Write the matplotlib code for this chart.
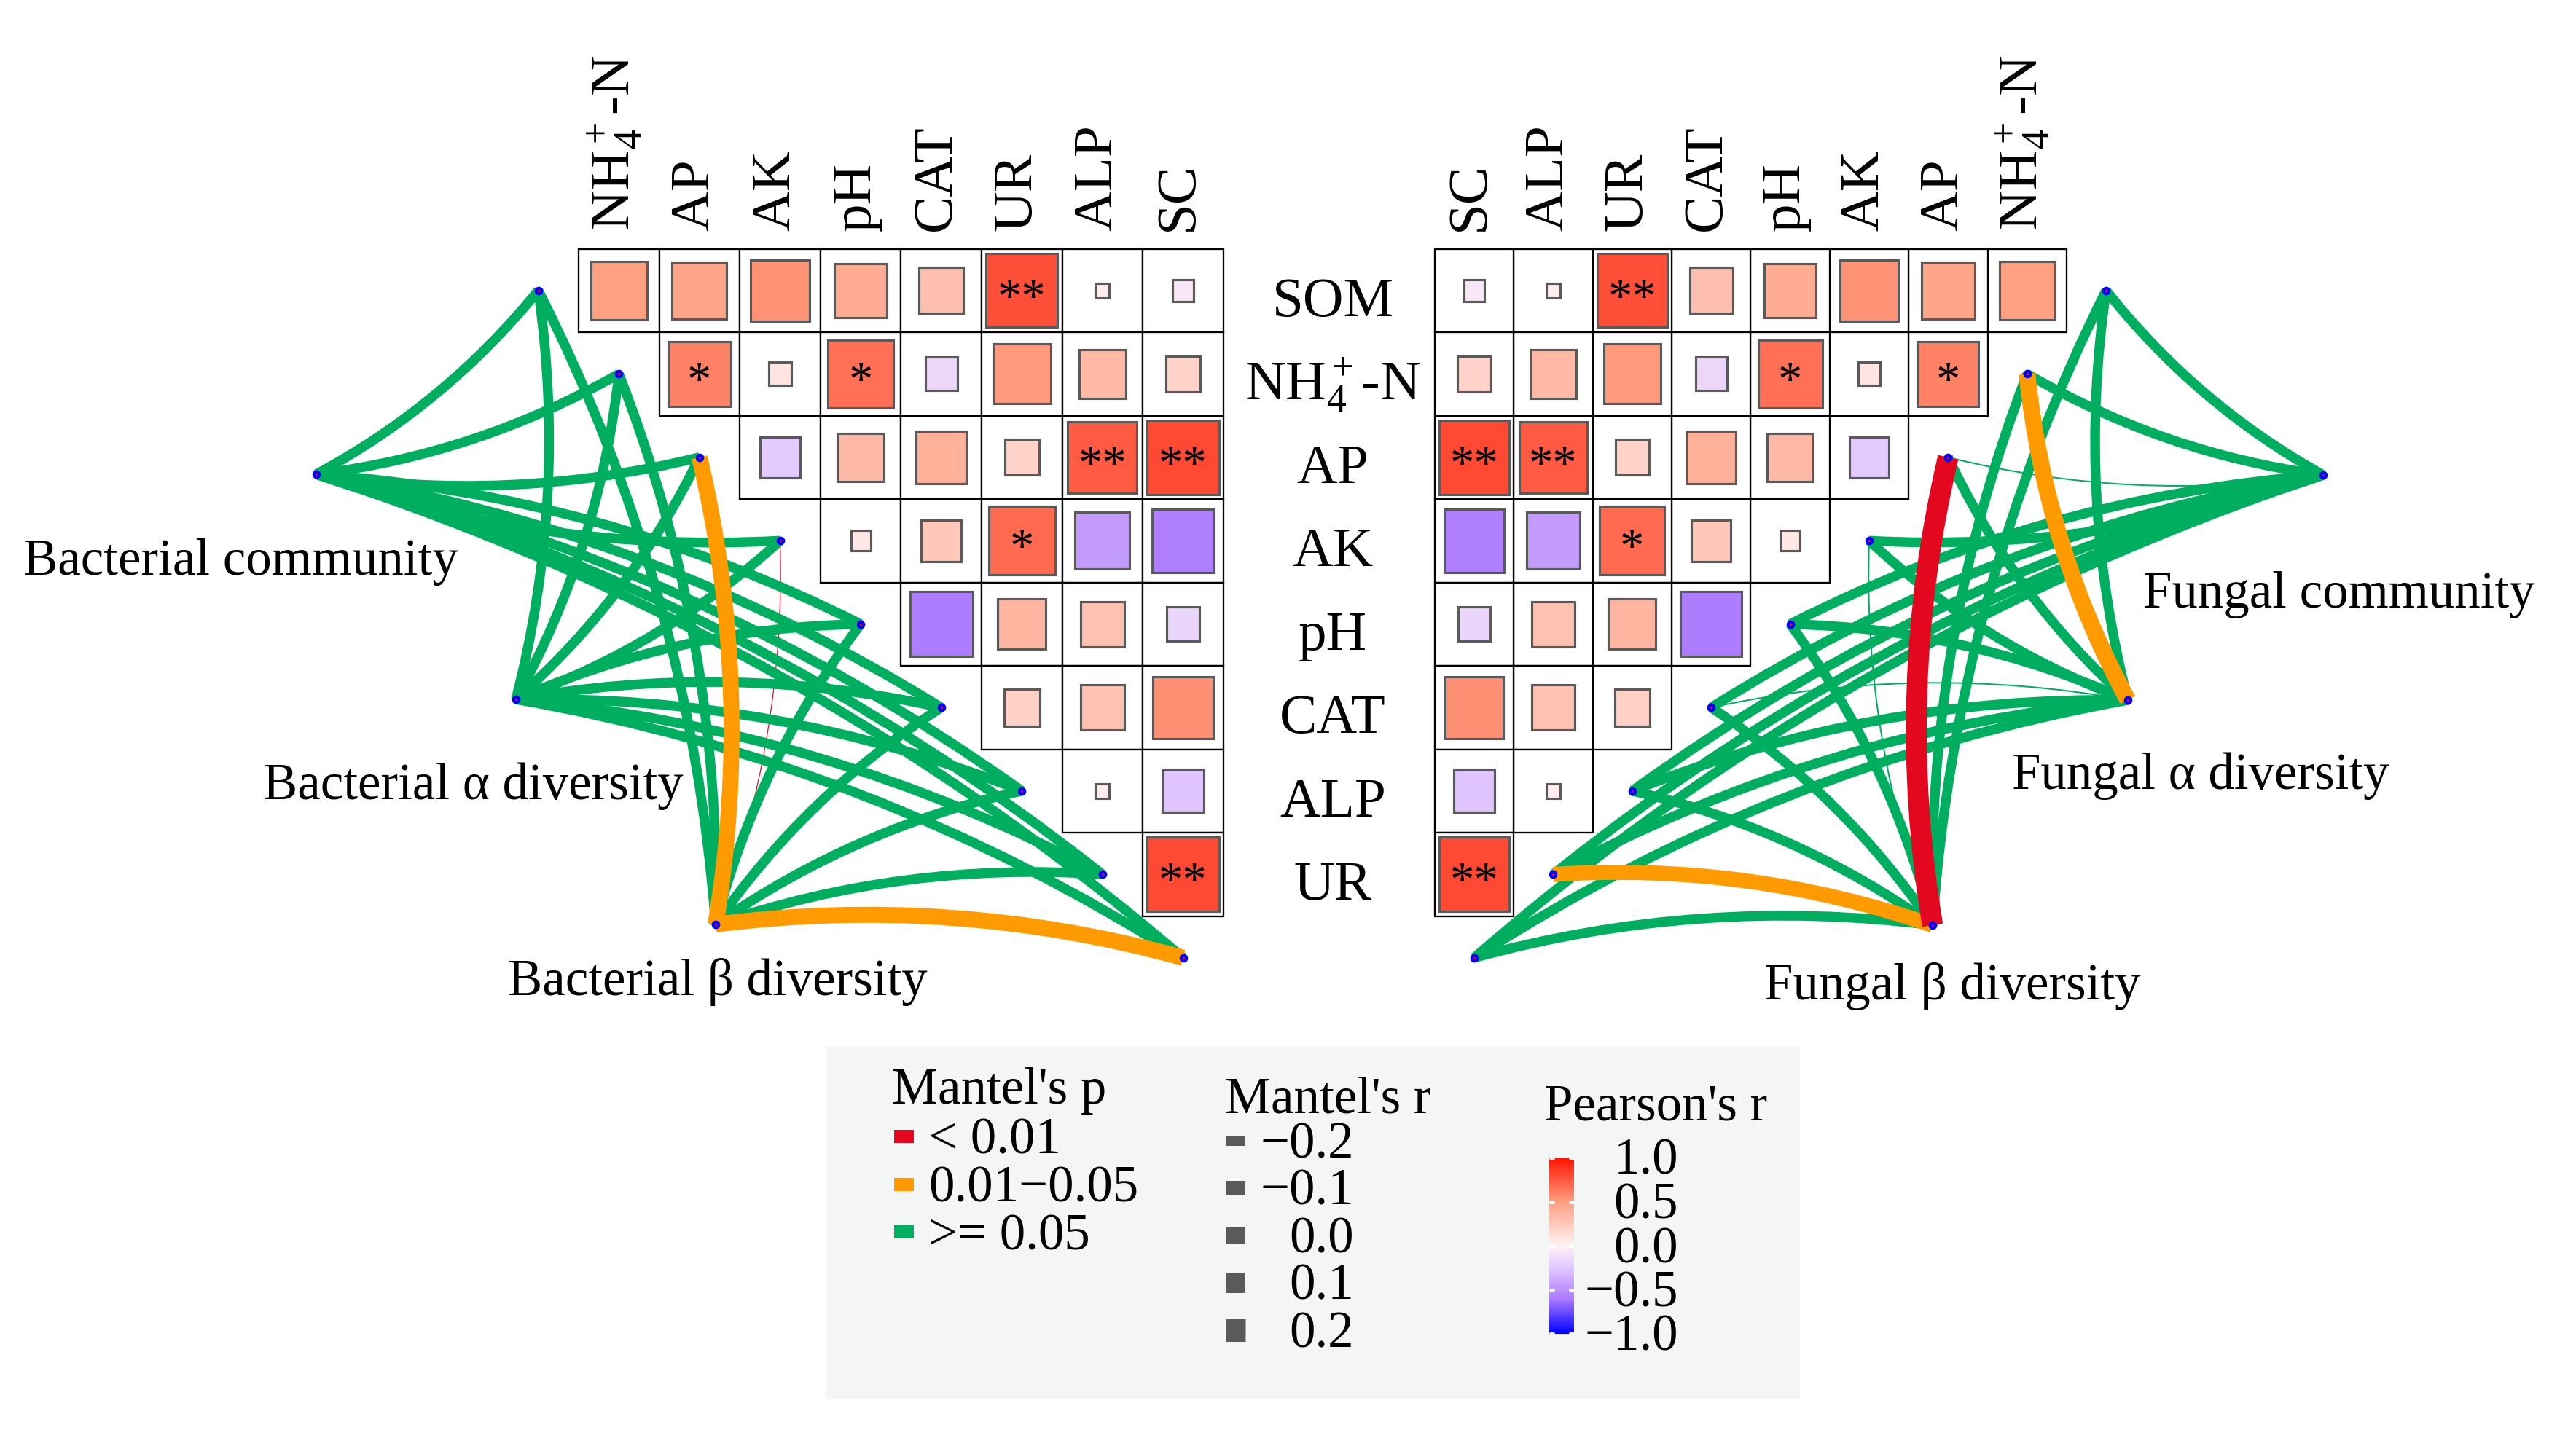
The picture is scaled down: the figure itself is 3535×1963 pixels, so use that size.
import numpy as np
import matplotlib
matplotlib.use("Agg")
from matplotlib import pyplot as plt
from matplotlib.patches import Rectangle, PathPatch
from matplotlib.path import Path
from matplotlib.colors import LinearSegmentedColormap, Normalize
from matplotlib.cm import ScalarMappable
import matplotlib.transforms as mtransforms

plt.rcParams['font.family'] = ['Liberation Serif', 'DejaVu Serif']
plt.rcParams['mathtext.fontset'] = 'custom'
plt.rcParams['mathtext.rm'] = 'Liberation Serif'
plt.rcParams['mathtext.it'] = 'Liberation Serif:italic'

# ---- data ----
col_labels = ["NH$_4^+$-N", "AP", "AK", "pH", "CAT", "UR", "ALP", "SC"]
row_labels = ["SOM", "NH$_4^+$-N", "AP", "AK", "pH", "CAT", "ALP", "UR"]
env_vars = ["SOM", "NH4", "AP", "AK", "pH", "CAT", "ALP", "UR", "SC"]

nan = np.nan
# Pearson's r between soil factors (upper triangle, rows x columns)
pearson_r = np.array([
    [0.49, 0.46, 0.54, 0.42, 0.30, 0.78, 0.03, -0.07],
    [nan, 0.60, 0.08, 0.66, -0.16, 0.51, 0.34, 0.18],
    [nan, nan, -0.24, 0.33, 0.39, 0.18, 0.74, 0.80],
    [nan, nan, nan, 0.06, 0.25, 0.68, -0.46, -0.58],
    [nan, nan, nan, nan, -0.60, 0.36, 0.29, -0.17],
    [nan, nan, nan, nan, nan, 0.20, 0.29, 0.55],
    [nan, nan, nan, nan, nan, nan, 0.03, -0.27],
    [nan, nan, nan, nan, nan, nan, nan, 0.80],
])
signif = [
    ["", "", "", "", "", "**", "", ""],
    ["", "*", "", "*", "", "", "", ""],
    ["", "", "", "", "", "", "**", "**"],
    ["", "", "", "", "", "*", "", ""],
    ["", "", "", "", "", "", "", ""],
    ["", "", "", "", "", "", "", ""],
    ["", "", "", "", "", "", "", ""],
    ["", "", "", "", "", "", "", "**"],
]

bact_groups = ["Bacterial community", "Bacterial α diversity", "Bacterial β diversity"]
fung_groups = ["Fungal community", "Fungal α diversity", "Fungal β diversity"]

# Mantel tests: one list per group, one value per soil factor (env_vars order)
bact_p = [
    [">=0.05"] * 9,
    [">=0.05"] * 9,
    [">=0.05", ">=0.05", "0.01-0.05", "<0.01", ">=0.05", ">=0.05", ">=0.05", ">=0.05", "0.01-0.05"],
]
bact_r = [
    [-0.21] * 9,
    [-0.21] * 9,
    [-0.21, -0.21, -0.05, -0.42, -0.21, -0.21, -0.21, -0.21, -0.05],
]
fung_p = [
    [">=0.05"] * 9,
    [">=0.05", "0.01-0.05", ">=0.05", ">=0.05", ">=0.05", ">=0.05", ">=0.05", ">=0.05", ">=0.05"],
    [">=0.05", ">=0.05", "<0.01", ">=0.05", ">=0.05", ">=0.05", ">=0.05", "0.01-0.05", ">=0.05"],
]
fung_r = [
    [-0.21, -0.21, -0.40, -0.21, -0.21, -0.21, -0.21, -0.21, -0.21],
    [-0.21, -0.03, -0.21, -0.21, -0.21, -0.40, -0.21, -0.21, -0.21],
    [-0.21, -0.21, 0.12, -0.40, -0.21, -0.21, -0.21, -0.08, -0.21],
]

p_levels = ["<0.01", "0.01-0.05", ">=0.05"]
p_level_labels = ["< 0.01", "0.01\u22120.05", ">= 0.05"]
p_colors = ["#E3081F", "#FF9A00", "#00AE60"]
r_breaks = [-0.2, -0.1, 0.0, 0.1, 0.2]
r_break_labels = ["\u22120.2", "\u22120.1", "0.0", "0.1", "0.2"]
cbar_ticks = [-1.0, -0.5, 0.0, 0.5, 1.0]
cbar_labels = ["\u22121.0", "\u22120.5", "0.0", "0.5", "1.0"]

# ---- layout (pixels of the output image) ----
W, H, DPI = 3535, 1963, 300
PX = 72.0 / DPI
FS = 17
FS_HM = 18.5

gx0, gy0, cw, ch = 794.0, 341.5, 110.6, 114.5   # left heatmap
gxr, cwr = 2836.0, 108.4                        # right heatmap (right edge)
label_x = 1829.0
bact_xy = [(434, 651), (708, 960), (982, 1269)]
fung_xy = [(3188, 652), (2920, 961), (2652, 1270)]
curv = 0.1

cmap = LinearSegmentedColormap.from_list(
    "pearson", [(0.0, "#0000FF"), (0.2, "#AE7CFF"), (0.375, "#E2C8FF"),
                (0.5, "#FFF2F4"), (0.75, "#FF9E80"), (1.0, "#FF1200")])
norm = Normalize(-1, 1)


def mantel_width(r):
    return np.interp(r, [-0.42, -0.4, -0.2, -0.1, 0.0, 0.1, 0.2],
                     [1.2, 2, 14, 20, 24, 28, 31]) * PX


fig = plt.figure(figsize=(W / DPI, H / DPI), dpi=DPI)
ax = fig.add_axes([0, 0, 1, 1])
ax.set_xlim(0, W)
ax.set_ylim(H, 0)
ax.axis('off')


def draw_heatmap(mirror):
    n = pearson_r.shape[0]
    for i in range(n):
        for j in range(n):
            r = pearson_r[i, j]
            if np.isnan(r):
                continue
            if mirror:
                x = gxr - (j + 1) * cwr
                w = cwr
            else:
                x = gx0 + j * cw
                w = cw
            y = gy0 + i * ch
            ax.add_patch(Rectangle((x, y), w, ch, facecolor='white',
                                   edgecolor='black', lw=0.55, zorder=1))
            s = np.sqrt(abs(r))
            ax.add_patch(Rectangle((x + w * (1 - s) / 2, y + ch * (1 - s) / 2), w * s, ch * s,
                                   facecolor=cmap(norm(r)), edgecolor='#5A5A5A',
                                   lw=0.75, zorder=2))
            if signif[i][j]:
                ax.text(x + w / 2, y + ch / 2 + 29, signif[i][j], ha='center',
                        va='baseline', fontsize=16, zorder=3)
    for j, lab in enumerate(col_labels):
        if mirror:
            x = gxr - (j + 0.5) * cwr
        else:
            x = gx0 + (j + 0.5) * cw
        ax.text(x - 6, 317, lab, rotation=90, ha='center', va='bottom', fontsize=FS_HM)


draw_heatmap(False)
draw_heatmap(True)

for i, lab in enumerate(row_labels):
    ax.text(label_x, gy0 + (i + 0.5) * ch + 35, lab, ha='center', va='baseline',
            fontsize=FS_HM)


def env_xy(e, mirror):
    y = gy0 + (e + 0.5) * ch
    if mirror:
        return gxr - (e - 0.5) * cwr, y
    return gx0 + (e - 0.5) * cw, y


mid_y = gy0 + 4.5 * ch


def draw_edges(group_xy, p_tab, r_tab, mirror):
    edges = []
    for g, gxy in enumerate(group_xy):
        for e in range(len(env_vars)):
            edges.append((mantel_width(r_tab[g][e]), g, e))
    edges.sort(key=lambda t: t[0])
    for lw, g, e in edges:
        p0 = np.array(env_xy(e, mirror))
        p1 = np.array(group_xy[g], dtype=float)
        d = p1 - p0
        L = np.hypot(*d)
        nrm = np.array([d[1], -d[0]]) / L
        sign = 1 if p0[1] < mid_y else -1
        if mirror:
            sign = -sign
        ctrl = (p0 + p1) / 2 + sign * curv * L * nrm
        path = Path([p0, ctrl, p1], [Path.MOVETO, Path.CURVE3, Path.CURVE3])
        col = p_colors[p_levels.index(p_tab[g][e])]
        ax.add_patch(PathPatch(path, fill=False, edgecolor=col, lw=lw,
                               capstyle='butt', zorder=4))
    ex = [env_xy(e, mirror)[0] for e in range(len(env_vars))]
    ey = [env_xy(e, mirror)[1] for e in range(len(env_vars))]
    gx = [p[0] for p in group_xy]
    gy = [p[1] for p in group_xy]
    ax.plot(ex + gx, ey + gy, 'o', ms=1.8, mfc='red', mec='blue', mew=1.0,
            ls='none', zorder=6)


draw_edges(bact_xy, bact_p, bact_r, False)
draw_edges(fung_xy, fung_p, fung_r, True)

# group labels
ax.text(330, 789, bact_groups[0], ha='center', va='baseline', fontsize=FS)
ax.text(649, 1097, bact_groups[1], ha='center', va='baseline', fontsize=FS)
ax.text(985, 1366, bact_groups[2], ha='center', va='baseline', fontsize=FS)
ax.text(3210, 834, fung_groups[0], ha='center', va='baseline', fontsize=FS)
ax.text(3020, 1083, fung_groups[1], ha='center', va='baseline', fontsize=FS)
ax.text(2679, 1372, fung_groups[2], ha='center', va='baseline', fontsize=FS)

# ---- legend ----
ax.add_patch(Rectangle((1133, 1437), 1337, 484, facecolor='#F4F6F5',
                       edgecolor='none', zorder=0))
ax.text(1224, 1515, "Mantel's p", ha='left', va='baseline', fontsize=FS)
for k, (lab, col) in enumerate(zip(p_level_labels, p_colors)):
    yc = 1560 + k * 65.5
    ax.plot([1227, 1254], [yc, yc], color=col, lw=18 * PX, solid_capstyle='butt')
    ax.text(1274, yc + 24, lab, ha='left', va='baseline', fontsize=FS)

ax.text(1681, 1528, "Mantel's r", ha='left', va='baseline', fontsize=FS)
for k, (rv, lab) in enumerate(zip(r_breaks, r_break_labels)):
    yc = 1566 + k * 65
    ax.plot([1682, 1709], [yc, yc], color='#5A5A5A', lw=mantel_width(rv),
            solid_capstyle='butt')
    ax.text(1858, yc + 23, lab, ha='right', va='baseline', fontsize=FS)

ax.text(2119, 1537, "Pearson's r", ha='left', va='baseline', fontsize=FS)
cb_x, cb_top, cb_w, cb_h = 2126, 1589, 34, 242
cax = fig.add_axes([cb_x / W, 1 - (cb_top + cb_h) / H, cb_w / W, cb_h / H])
cb = fig.colorbar(ScalarMappable(norm=norm, cmap=cmap), cax=cax)
cb.outline.set_visible(False)
cax.set_yticks([])
for t in cbar_ticks:
    cax.plot([0, 0.2], [t, t], color='white', lw=1.2, transform=cax.get_yaxis_transform(),
             solid_capstyle='butt')
    cax.plot([0.8, 1.0], [t, t], color='white', lw=1.2, transform=cax.get_yaxis_transform(),
             solid_capstyle='butt')
tr = mtransforms.blended_transform_factory(ax.transData, cax.transData)
tr = mtransforms.offset_copy(tr, fig=fig, x=0, y=-23 * PX, units='points')
for t, lab in zip(cbar_ticks, cbar_labels):
    ax.text(2303, t, lab, ha='right', va='baseline', fontsize=FS, transform=tr)

fig.savefig("out.png", dpi=DPI)
